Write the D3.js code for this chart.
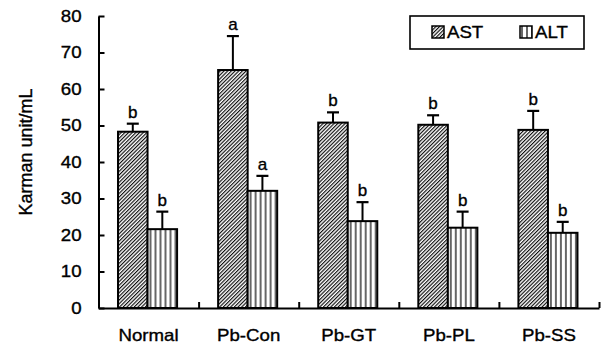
<!DOCTYPE html>
<html>
<head>
<meta charset="utf-8">
<script src="https://cdn.jsdelivr.net/npm/d3@7"></script>
<style>
  body { margin: 0; background: #fff; }
  svg { display: block; font-family: "Liberation Sans", Arial, sans-serif; }
  text { stroke: #000; stroke-width: 0.35px; }
</style>
</head>
<body>
<div id="chart"></div>
<script>
// data
var categories = ["Normal", "Pb-Con", "Pb-GT", "Pb-PL", "Pb-SS"];
var series = ["AST", "ALT"];
var astValues = [48.3, 65.2, 50.8, 50.2, 48.8];
var astErrors = [2.2, 9.3, 2.8, 2.6, 5.2];
var altValues = [21.6, 32.1, 23.8, 22.0, 20.6];
var altErrors = [4.8, 4.1, 5.2, 4.4, 3.0];
var astLetters = ["b", "a", "b", "b", "b"];
var altLetters = ["b", "a", "b", "b", "b"];
var yTicks = [0, 10, 20, 30, 40, 50, 60, 70, 80];

var width = 606, height = 351;
var stretch = 1.13; // original glyphs look wider than they are tall

var svg = d3.select("#chart").append("svg")
    .attr("width", width)
    .attr("height", height);

// patterns
var defs = svg.append("defs");
var diag = defs.append("pattern")
    .attr("id", "hatch-ast")
    .attr("patternUnits", "userSpaceOnUse")
    .attr("width", 2.6).attr("height", 2.6)
    .attr("patternTransform", "rotate(45)");
diag.append("rect").attr("width", 2.6).attr("height", 2.6).attr("fill", "#fff");
diag.append("line")
    .attr("x1", 0.6).attr("y1", 0).attr("x2", 0.6).attr("y2", 2.6)
    .attr("stroke", "#000").attr("stroke-width", 1.1);

var vert = defs.append("pattern")
    .attr("id", "hatch-alt")
    .attr("patternUnits", "userSpaceOnUse")
    .attr("width", 5).attr("height", 5);
vert.append("rect").attr("width", 5).attr("height", 5).attr("fill", "#fff");
vert.append("line")
    .attr("x1", 2).attr("y1", 0).attr("x2", 2).attr("y2", 5)
    .attr("stroke", "#000").attr("stroke-width", 1.2);

var fills = { AST: "url(#hatch-ast)", ALT: "url(#hatch-alt)" };

// scales
var x0 = d3.scaleBand().domain(categories).range([98.5, 599]);
var x1 = d3.scaleBand().domain(series)
    .range([x0.bandwidth() * 0.195, x0.bandwidth() * 0.785]);
var y = d3.scaleLinear().domain([0, 80]).range([308, 16]);
var xEdges = d3.scaleLinear().domain([0, categories.length]).range([98.5, 599]);

var rows = categories.map(function (c, i) {
    return {
        category: c,
        bars: [
            { key: "AST", value: astValues[i], err: astErrors[i], letter: astLetters[i] },
            { key: "ALT", value: altValues[i], err: altErrors[i], letter: altLetters[i] }
        ]
    };
});

// bars
var groups = svg.selectAll(".group")
    .data(rows)
    .enter().append("g")
    .attr("class", "group")
    .attr("transform", function (d) { return "translate(" + x0(d.category) + ",0)"; });

var bar = groups.selectAll(".bar")
    .data(function (d) { return d.bars; })
    .enter().append("g")
    .attr("class", "bar");

// error bars (upper only)
bar.append("line")
    .attr("x1", function (d) { return x1(d.key) + x1.bandwidth() / 2; })
    .attr("x2", function (d) { return x1(d.key) + x1.bandwidth() / 2; })
    .attr("y1", function (d) { return y(d.value); })
    .attr("y2", function (d) { return y(d.value + d.err); })
    .attr("stroke", "#000").attr("stroke-width", 2);
bar.append("line")
    .attr("x1", function (d) { return x1(d.key) + x1.bandwidth() / 2 - 6; })
    .attr("x2", function (d) { return x1(d.key) + x1.bandwidth() / 2 + 6; })
    .attr("y1", function (d) { return y(d.value + d.err); })
    .attr("y2", function (d) { return y(d.value + d.err); })
    .attr("stroke", "#000").attr("stroke-width", 2.2);

bar.append("rect")
    .attr("x", function (d) { return x1(d.key); })
    .attr("y", function (d) { return y(d.value); })
    .attr("width", x1.bandwidth())
    .attr("height", function (d) { return y(0) - y(d.value); })
    .attr("fill", function (d) { return fills[d.key]; })
    .attr("stroke", "#000")
    .attr("stroke-width", 2);

// significance letters
bar.append("text")
    .attr("x", function (d) { return x1(d.key) + x1.bandwidth() / 2; })
    .attr("y", function (d) { return y(d.value + d.err) - 6; })
    .attr("text-anchor", "middle")
    .style("font-size", "17px")
    .text(function (d) { return d.letter; });

// y axis, ticks pointing inward
var yAxis = svg.append("g")
    .attr("class", "y axis")
    .attr("transform", "translate(98.5,0)")
    .call(d3.axisLeft(y).tickValues(yTicks).tickSize(-6).tickSizeOuter(0).tickPadding(17));
yAxis.select(".domain").attr("stroke-width", 2);
yAxis.selectAll(".tick line").attr("stroke-width", 2);
yAxis.selectAll(".tick text")
    .attr("class", "stretch")
    .style("font-size", "16.5px")
    .attr("fill", "#000");

// x axis: labels under the band centers
var xAxis = svg.append("g")
    .attr("class", "x axis")
    .attr("transform", "translate(0,308)")
    .call(d3.axisBottom(x0).tickSize(0).tickPadding(21.5));
xAxis.select(".domain").attr("stroke-width", 2);
xAxis.selectAll(".tick text")
    .attr("class", "stretch")
    .style("font-size", "16.5px")
    .attr("fill", "#000");

// x axis: small upward ticks at the band edges
var xEdgeAxis = svg.append("g")
    .attr("transform", "translate(0,308)")
    .call(d3.axisBottom(xEdges).ticks(categories.length).tickSize(-6).tickSizeOuter(0).tickFormat(""));
xEdgeAxis.select(".domain").remove();
xEdgeAxis.selectAll(".tick line").attr("stroke-width", 2);

// y label
svg.append("text")
    .attr("transform", "translate(32,152) rotate(-90)")
    .attr("text-anchor", "middle")
    .style("font-size", "18px")
    .text("Karman unit/mL");

// legend
var legend = svg.append("g").attr("class", "legend");
legend.append("rect")
    .attr("x", 410).attr("y", 16)
    .attr("width", 174).attr("height", 33)
    .attr("fill", "#fff")
    .attr("stroke", "#000").attr("stroke-width", 1.6);

var legendX = d3.scalePoint().domain(series).range([432, 520]);
var item = legend.selectAll(".item")
    .data(series)
    .enter().append("g")
    .attr("class", "item")
    .attr("transform", function (d) { return "translate(" + legendX(d) + ",26)"; });
item.append("rect")
    .attr("width", 12).attr("height", 12)
    .attr("fill", function (d) { return fills[d]; })
    .attr("stroke", "#000").attr("stroke-width", 1.5);
item.append("text")
    .attr("class", "stretch")
    .attr("x", 15).attr("y", 12)
    .style("font-size", "16.5px")
    .text(function (d) { return d; });

// widen the horizontal text to match the original glyphs
svg.selectAll("text.stretch").each(function () {
    var w = this.getComputedTextLength();
    this.setAttribute("textLength", w * stretch);
    this.setAttribute("lengthAdjust", "spacingAndGlyphs");
});
</script>
</body>
</html>
